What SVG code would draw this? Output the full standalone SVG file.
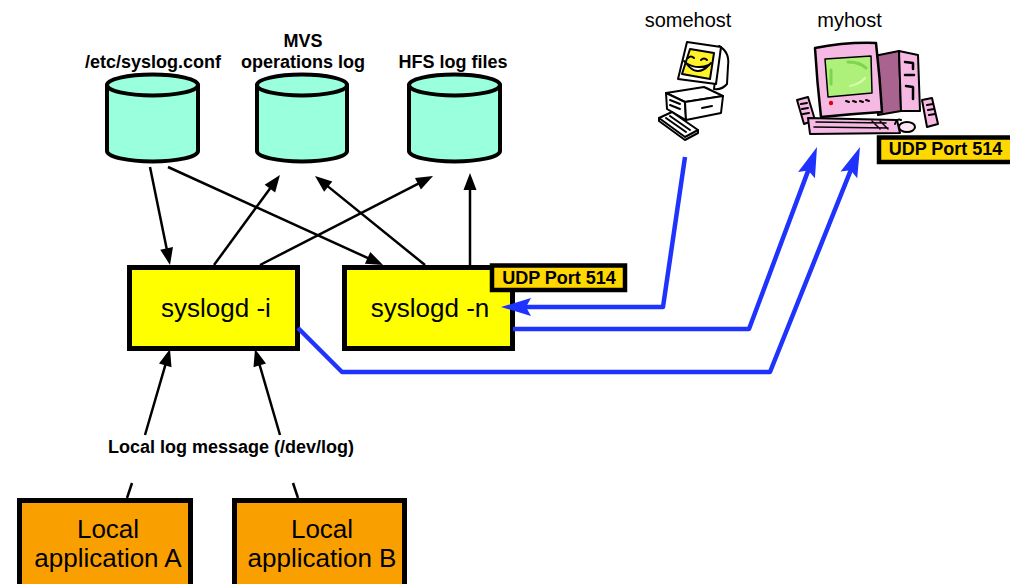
<svg xmlns="http://www.w3.org/2000/svg" width="1010" height="584" viewBox="0 0 1010 584">
  <style>
    text { font-family: "Liberation Sans", Arial, Helvetica, sans-serif; fill: #000; }
    .lbl { font-size: 18px; font-weight: bold; text-anchor: middle; }
    .host { font-size: 20px; text-anchor: middle; }
    .proc { font-size: 26px; text-anchor: middle; }
    .cyl { fill: #99ffdd; stroke: #000; stroke-width: 4; stroke-linejoin: round; }
    .daemon { fill: #ffff00; stroke: #000; stroke-width: 5; }
    .app { fill: #f9a000; stroke: #000; stroke-width: 5; }
    .port { fill: #ffd800; stroke: #000; stroke-width: 4.5; }
    .blk { fill: none; stroke: #000; stroke-width: 2.5; }
    .blk.arr { marker-end: url(#ah); }
    .net { fill: none; stroke: #1f33ff; stroke-width: 4.5; stroke-linejoin: round; }
    .net.arr { marker-end: url(#bh); }
    .ink { stroke: #000; stroke-width: 2; stroke-linejoin: round; stroke-linecap: round; }
    .pink { fill: #f6b9e3; }
    .mauve { fill: #a8648f; }
    .paper { fill: #fff; }
  </style>
  <defs>
    <marker id="ah" viewBox="-13 -7 19 14" markerUnits="userSpaceOnUse" markerWidth="19" markerHeight="14" refX="0" refY="0" orient="auto">
      <path d="M5,0 L-12,-6.5 L-12,6.5 Z" fill="#000"/>
    </marker>
    <marker id="bh" viewBox="-21 -10 32 20" markerUnits="userSpaceOnUse" markerWidth="32" markerHeight="20" refX="0" refY="0" orient="auto">
      <path d="M10,0 L-20,-9 L-15,0 L-20,9 Z" fill="#1f33ff"/>
    </marker>
  </defs>

  <!-- data stores -->
  <g id="conf">
    <text class="lbl" x="153" y="68">/etc/syslog.conf</text>
    <path class="cyl" d="M107,85 L107,151 A45.5,10.5 0 0 0 198,151 L198,85 Z"/>
    <ellipse class="cyl" cx="152.5" cy="85" rx="45.5" ry="10.5"/>
  </g>
  <g id="opslog">
    <text class="lbl" x="303" y="47">MVS</text>
    <text class="lbl" x="303" y="68">operations log</text>
    <path class="cyl" d="M257,85 L257,151 A45,10.5 0 0 0 347,151 L347,85 Z"/>
    <ellipse class="cyl" cx="302" cy="85" rx="45" ry="10.5"/>
  </g>
  <g id="hfslog">
    <text class="lbl" x="453" y="68">HFS log files</text>
    <path class="cyl" d="M409,85 L409,151 A45.5,10.5 0 0 0 500,151 L500,85 Z"/>
    <ellipse class="cyl" cx="454.5" cy="85" rx="45.5" ry="10.5"/>
  </g>

  <!-- daemons -->
  <g id="syslogd-i">
    <rect class="daemon" x="129.5" y="267.5" width="168" height="81"/>
    <text class="proc" x="216" y="317">syslogd -i</text>
  </g>
  <g id="syslogd-n">
    <rect class="daemon" x="344.5" y="267.5" width="168" height="81"/>
    <text class="proc" x="430" y="317">syslogd -n</text>
    <rect class="port" x="492" y="265.5" width="133" height="24.5"/>
    <text class="lbl" x="559" y="284">UDP Port 514</text>
  </g>

  <!-- local applications -->
  <g id="app-a">
    <rect class="app" x="19.5" y="500.5" width="171" height="100"/>
    <text class="proc" x="108" y="538">Local</text>
    <text class="proc" x="108" y="567">application A</text>
  </g>
  <g id="app-b">
    <rect class="app" x="234.5" y="500.5" width="170" height="100"/>
    <text class="proc" x="322" y="538">Local</text>
    <text class="proc" x="322" y="567">application B</text>
  </g>

  <!-- remote host: somehost -->
  <g id="somehost">
    <text class="host" x="688" y="27">somehost</text>
    <g class="ink">
      <path class="paper" d="M719,46 Q730,52 728,66 L727,84 Q722,90 714,89 Z"/>
      <polygon class="paper" points="687,42 721,47 716,84 678,79"/>
      <polygon fill="#fff22a" points="690,49 714,53 710,79 682,74"/>
      <path fill="none" d="M688,58 q3,-3 6,0 M701,60 q3,-3 6,0"/>
      <path class="paper" d="M686,63 Q697,78 709,65 Q697,70 686,63 Z"/>
      <path fill="none" d="M686,63 l-2,-2 M709,65 l2,-2"/>
      <ellipse class="paper" cx="702" cy="91" rx="8" ry="3"/>
      <polygon class="paper" points="666,93 704,87 723,96 685,102"/>
      <polygon class="paper" points="666,93 685,102 686,120 667,109"/>
      <polygon class="paper" points="685,102 723,96 721,113 686,120"/>
      <path fill="none" d="M670,100 l10,4 M670,105 l10,4 M702,108 l10,-2"/>
      <polygon class="paper" points="659,118 672,112 698,130 685,137"/>
      <path fill="none" d="M659,118 L659,121 L685,140 L698,133 L698,130 M666,118 l20,14 M670,116 l20,14"/>
    </g>
  </g>

  <!-- remote host: myhost -->
  <g id="myhost">
    <text class="host" x="849.5" y="27">myhost</text>
    <g class="ink">
      <polygon class="pink" points="797,100 808,97 815,120 804,124"/>
      <path fill="none" d="M801,104 l6,-1 M802,109 l6,-1 M803,114 l6,-1"/>
      <polygon class="mauve" points="874,56 899,51 901,111 878,115"/>
      <polygon class="pink" points="899,51 918,55 920,111 901,111"/>
      <path fill="none" stroke-width="2.5" d="M905,62 l8,1 l0,6 M906,86 l7,1 l0,12 M905,75 l9,0"/>
      <polygon class="pink" points="922,100 932,98 938,124 927,127"/>
      <path fill="none" d="M927,105 l6,-1 M928,110 l6,-1 M929,115 l6,-1"/>
      <path class="pink" stroke-width="2.5" d="M815,48 Q845,42 876,43 Q880,78 882,112 Q850,114 821,117 Q817,82 815,48 Z"/>
      <polygon fill="#aef07a" stroke-width="1.5" points="825,59 871,56 872,93 828,97"/>
      <path fill="none" stroke="#7ed44e" stroke-width="3" d="M848,62 q12,0 18,6 M831,70 l0,14"/>
      <path fill="none" stroke="#d4ffb0" stroke-width="2" d="M850,86 q10,-2 15,-8"/>
      <circle cx="831" cy="103" r="2.2" fill="#e00000" stroke="none"/>
      <path fill="none" stroke-width="2" d="M846,101 l3,1 M853,101 l3,1 M860,101 l3,1 M866,100 l3,1"/>
      <polygon class="pink" points="808,118 897,120 900,133 810,134"/>
      <path fill="none" stroke-width="1.5" d="M816,122 l70,1 M814,127 l74,1 M872,121 l8,8 M880,121 l8,8"/>
      <path fill="none" d="M895,124 q2,-6 6,-4"/>
      <ellipse cx="907" cy="127" rx="8" ry="5" fill="#fde6f4"/>
    </g>
    <rect class="port" x="879" y="137.5" width="135" height="24.5"/>
    <text class="lbl" x="945.5" y="155">UDP Port 514</text>
  </g>

  <!-- connectors -->
  <g id="connectors">
    <path class="blk arr" d="M150,167 L169,260.1"/>
    <path class="blk arr" d="M168,167 L378.5,262.9"/>
    <path class="blk arr" d="M214,265 L277,179"/>
    <path class="blk arr" d="M260,265 L428.6,178.3"/>
    <path class="blk arr" d="M425,265 L318.9,179.1"/>
    <path class="blk arr" d="M470,265 L470,178"/>
    <path class="blk arr" d="M145,435 L168.6,353.8"/>
    <path class="blk arr" d="M280,435 L256.4,353.8"/>
    <path class="blk" d="M132,483 L127,498"/>
    <path class="blk" d="M293,483 L298,498"/>
    <text class="lbl" x="231" y="453">Local log message (/dev/log)</text>

    <path class="net arr" d="M685,157 L663,307 L511,307"/>
    <path class="net arr" d="M513,329 L749,329 L813.5,156.4"/>
    <path class="net arr" d="M298,328 L342,372 L770,372 L856.3,156.3"/>
  </g>
</svg>
